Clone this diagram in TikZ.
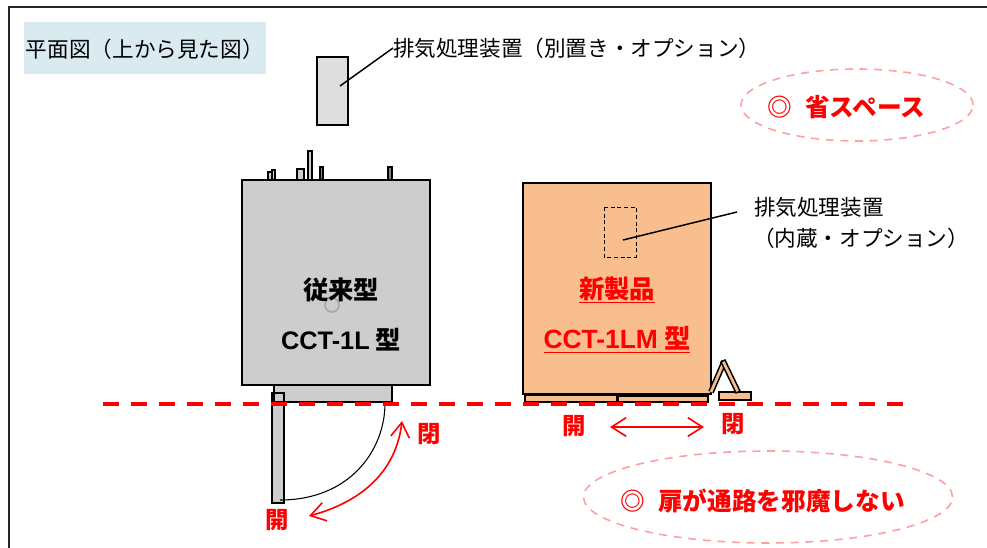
\documentclass[tikz,border=0pt]{standalone}
\usepackage{fontspec}
\setmainfont{Liberation Sans}
\newfontfamily\cjk{Noto Sans CJK JP}
\usepackage{xcolor}
\usetikzlibrary{positioning}
\usetikzlibrary{shapes.geometric}
\usetikzlibrary{arrows.meta}
\definecolor{boxgray}{HTML}{CDCDCD}
\definecolor{lightgray}{HTML}{DEDEDE}
\definecolor{peach}{HTML}{F8BE8D}
\definecolor{paleblue}{HTML}{D9EBF1}
\definecolor{ovalred}{HTML}{FFA0A0}
\newcommand{\lat}[1]{{\normalfont\bfseries #1}}
\tikzset{>=stealth}
\begin{document}
\begin{tikzpicture}[
  x=0.75pt, y=-0.75pt,
  every node/.style={inner sep=0pt, outer sep=0pt},
  part/.style={draw, line width=1.5pt},
  grayp/.style={part, fill=boxgray},
  peachp/.style={part, fill=peach},
  small/.style={draw, line width=1.1pt},
  note/.style={font=\cjk\fontsize{16.2}{20}\selectfont},
  redtxt/.style={text=red, font=\cjk\bfseries\fontsize{17.5}{20}\selectfont},
  bigtxt/.style={font=\cjk\bfseries\fontsize{19}{22}\selectfont},
  bigtxtb/.style={font=\cjk\bfseries\fontsize{19.8}{22}\selectfont},
  gaintxt/.style={text=red, font=\cjk\bfseries\fontsize{18.5}{22}\selectfont},
  lead/.style={draw, line width=1.1pt},
  swing/.style={draw=red, line width=1.2pt, {Straight Barb[length=11pt,width=14pt]}-{Straight Barb[length=11pt,width=14pt]}},
  oval/.style={draw=ovalred, line width=1.2pt, dash pattern=on 6pt off 5pt, ellipse}]
  \useasboundingbox (0,0) rectangle (987,548);
  %% Frame
  \draw [line width=1.2pt, draw=black!85] (9,548) -- (9,7) -- (987,7);
  %% Title
  \node [fill=paleblue, minimum width=242*0.75pt, minimum height=52*0.75pt, anchor=north west] (title) at (24,22) {};
  \node [note, anchor=west] (titletext) at (26,49) {平面図（上から見た図）};
  %% Exhaust unit
  \draw [part, line width=1.2pt, fill=lightgray] (317,57) rectangle (348,125);
  \coordinate (extin) at (340,86);
  \node [note, anchor=west] (extlabel) at (393,48) {排気処理装置（別置き・オプション）};
  \draw [lead] (extin) -- (extlabel.west);
  %% Old unit
  \draw [small, fill=boxgray] (268,172) rectangle (272,180);
  \draw [small, fill=boxgray] (272,170) rectangle (275,180);
  \draw [small, fill=boxgray] (297,169) rectangle (304,180);
  \draw [small, fill=boxgray] (308,151) rectangle (312,180);
  \draw [small, fill=gray] (320,167) rectangle (323,180);
  \draw [small, fill=gray] (388,167) rectangle (392,180);
  \node [grayp, anchor=north west, minimum width=188*0.75pt, minimum height=205*0.75pt] (oldbox) at (242,180) {};
  %% Swing door
  \draw [fill=boxgray] (272,393) rectangle (284,503);
  \draw [grayp] (274,385) rectangle (392,402);
  \draw [part] (272,393) rectangle (284,503);
  \draw [line width=0.8pt] (385,403) .. controls (385,450) and (350,500) .. (280,500);
  \draw [draw=black!35, fill=boxgray, line width=1.2pt] (332,305) circle (7);
  \node [bigtxt] (oldname) at (341,290) {従来型};
  \node [bigtxt] (oldtype) at (341,340) {\lat{CCT-1L} 型};
  %% New unit
  \node [peachp, anchor=north west, minimum width=188*0.75pt, minimum height=211*0.75pt] (newbox) at (523,183) {};
  \draw [line width=0.7pt, dash pattern=on 3pt off 2pt] (604,207) rectangle (636,257);
  \node [note, anchor=west] (intlabel) at (754,207) {排気処理装置};
  \node [note, anchor=west] (intlabel2) at (753,238) {（内蔵・オプション）};
  \coordinate (intin) at (623,240);
  \coordinate (intout) at (737,212);
  \draw [lead] (intin) -- (intout);
  \node [bigtxt, text=red] (newname) at (617,290) {\underline{新製品}};
  \node [bigtxtb, text=red] (newtype) at (617,340) {\underline{\lat{CCT-1LM} 型}};
  %% Sliding door
  \draw [small, fill=peach] (525,395) rectangle (617,402);
  \draw [small, fill=peach] (618,396) rectangle (708,402);
  \fill (617,393) rectangle (709,396);
  \draw [small, fill=peach] (719,392) rectangle (751,400);
  \draw [small, fill=peach] (709,391) -- (722,361) -- (726,363) -- (713,393);
  \draw [small, fill=peach] (721,362) -- (725,360) -- (740,391) -- (736,393) -- cycle;
  %% Passage line
  \draw [red, line width=3pt, dash pattern=on 12pt off 9pt] (103,404) -- (905,404);
  %% Open/close marks
  \node [redtxt] (close1) at (429,434) {閉};
  \node [redtxt] (open1) at (277,520) {開};
  \draw [swing] (309,516) .. controls (350,505) and (395,480) .. (402,421);
  \node [redtxt] (open2) at (574,426) {開};
  \node [redtxt] (close2) at (733,424) {閉};
  \draw [swing] (610,427) -- (704,427);
  %% Ovals
  \node [oval, minimum width=232*0.75pt, minimum height=72*0.75pt] (topoval) at (857,105) {};
  \node [gaintxt, anchor=west] (toptext) at (767,107) {◎\hspace{0.55em}省スペース};
  \node [oval, minimum width=369*0.75pt, minimum height=92*0.75pt] (botoval) at (768,497) {};
  \node [gaintxt, anchor=west] (bottext) at (620,501) {◎\hspace{0.55em}扉が通路を邪魔しない};
\end{tikzpicture}
\end{document}
